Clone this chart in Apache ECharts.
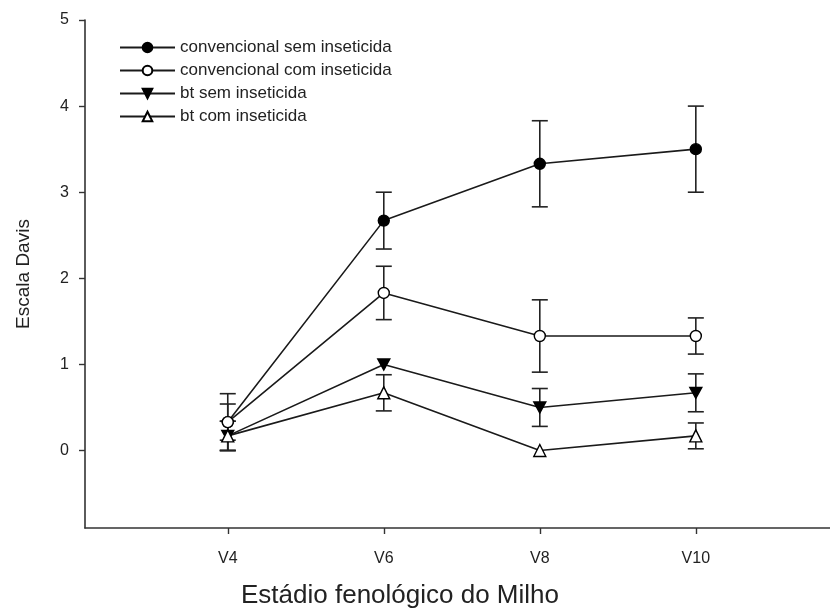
<!DOCTYPE html>
<html>
<head>
<meta charset="utf-8">
<script src="https://cdn.jsdelivr.net/npm/echarts@6/dist/echarts.min.js"></script>
<style>html,body{margin:0;padding:0;background:#fff}#c{width:830px;height:613px}</style>
</head>
<body>
<div id="c"></div>
<script>
const stages = [4, 6, 8, 10];
const stageLabels = ['V4', 'V6', 'V8', 'V10'];
const yTicks = [0, 1, 2, 3, 4, 5];
const seriesNames = ['convencional sem inseticida', 'convencional com inseticida', 'bt sem inseticida', 'bt com inseticida'];
const convSem = [0.33, 2.67, 3.33, 3.5];
const convSemErr = [0.33, 0.33, 0.5, 0.5];
const convCom = [0.33, 1.83, 1.33, 1.33];
const convComErr = [0.21, 0.31, 0.42, 0.21];
const btSem = [0.17, 1.0, 0.5, 0.67];
const btSemErr = [0.17, 0, 0.22, 0.22];
const btCom = [0.17, 0.67, 0, 0.17];
const btComErr = [0.17, 0.21, 0, 0.15];

const values = [convSem, convCom, btSem, btCom];
const errors = [convSemErr, convComErr, btSemErr, btComErr];
const symbols = ['circle', 'circle', 'path://M0,0 L10,0 L5,9 Z', 'triangle'];
const fills = ['#000', '#fff', '#000', '#fff'];

const font = 'Liberation Sans, Arial, sans-serif';
const chart = echarts.init(document.getElementById('c'));

const errSeries = values.map((vals, s) => ({
  type: 'custom',
  name: seriesNames[s] + ' err',
  z: 1,
  silent: true,
  data: stages.map((x, i) => [x, vals[i], errors[s][i]]),
  encode: { x: 0, y: 1 },
  renderItem: function (params, api) {
    const x = api.value(0), y = api.value(1), e = api.value(2);
    if (!e) return null;
    const top = api.coord([x, y + e]);
    const bot = api.coord([x, y - e]);
    const hw = 8;
    const st = { stroke: '#222', lineWidth: 1.6 };
    return {
      type: 'group',
      children: [
        { type: 'line', shape: { x1: top[0], y1: top[1], x2: bot[0], y2: bot[1] }, style: st },
        { type: 'line', shape: { x1: top[0] - hw, y1: top[1], x2: top[0] + hw, y2: top[1] }, style: st },
        { type: 'line', shape: { x1: bot[0] - hw, y1: bot[1], x2: bot[0] + hw, y2: bot[1] }, style: st }
      ]
    };
  }
}));

const lineSeries = values.map((vals, s) => ({
  type: 'line',
  name: seriesNames[s],
  z: 3,
  data: stages.map((x, i) => [x, vals[i]]),
  symbol: symbols[s],
  symbolSize: s === 2 ? [12, 11] : (s === 3 ? 12 : 11),
  lineStyle: { color: '#1a1a1a', width: 1.6 },
  itemStyle: { color: fills[s], borderColor: '#000', borderWidth: 1.4 },
  emphasis: { disabled: true }
}));

chart.setOption({
  animation: false,
  backgroundColor: '#fff',
  grid: { left: 85, right: 0, top: 20, bottom: 85, outerBoundsMode: 'none', containLabel: false },
  legend: {
    data: seriesNames,
    orient: 'vertical',
    left: 114,
    top: 34,
    itemWidth: 55,
    itemHeight: 12,
    itemGap: 6,
    textStyle: { fontFamily: font, fontSize: 17, color: '#222' }
  },
  xAxis: {
    type: 'value',
    min: 2.17,
    max: 11.72,
    splitLine: { show: false },
    axisLine: { onZero: false, lineStyle: { color: '#333', width: 1.6 } },
    axisTick: { customValues: stages, length: 6, lineStyle: { color: '#333', width: 1.4 } },
    axisLabel: {
      customValues: stages,
      margin: 23,
      fontFamily: font, fontSize: 16, color: '#222',
      formatter: v => stageLabels[stages.indexOf(v)]
    }
  },
  yAxis: {
    type: 'value',
    min: -0.9,
    max: 5,
    name: 'Escala Davis',
    nameLocation: 'middle',
    nameGap: 52,
    nameTextStyle: { fontFamily: font, fontSize: 19, color: '#222' },
    splitLine: { show: false },
    axisLine: { show: true, onZero: false, lineStyle: { color: '#333', width: 1.6 } },
    axisTick: { show: true, customValues: yTicks, length: 6, lineStyle: { color: '#333', width: 1.4 } },
    axisLabel: { customValues: yTicks, margin: 16, fontFamily: font, fontSize: 16, color: '#222' }
  },
  graphic: [{
    type: 'text',
    left: 241,
    top: 583,
    style: { text: 'Estádio fenológico do Milho', fontFamily: font, fontSize: 26, fill: '#222' }
  }],
  series: errSeries.concat(lineSeries)
});
</script>
</body>
</html>
